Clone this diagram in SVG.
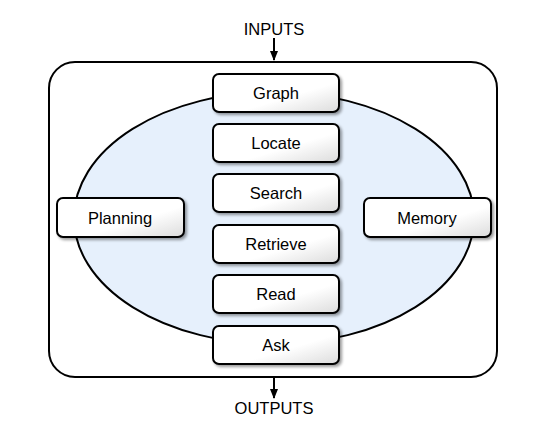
<svg xmlns="http://www.w3.org/2000/svg" width="560" height="426" viewBox="0 0 560 426">
<defs>
<linearGradient id="g" x1="0" y1="0" x2="1" y2="1">
<stop offset="0" stop-color="#ffffff"/>
<stop offset="0.6" stop-color="#ffffff"/>
<stop offset="1" stop-color="#dcdcdc"/>
</linearGradient>
<filter id="sh" x="-10%" y="-20%" width="130%" height="150%">
<feGaussianBlur in="SourceAlpha" stdDeviation="1.5"/>
<feOffset dx="1.5" dy="1.5" result="b"/>
<feComponentTransfer><feFuncA type="linear" slope="0.4"/></feComponentTransfer>
<feMerge><feMergeNode/><feMergeNode in="SourceGraphic"/></feMerge>
</filter>
<marker id="arr" viewBox="0 0 10 10" refX="9" refY="5" markerWidth="5" markerHeight="5" orient="auto">
<path d="M0,1 L10,5 L0,9 z" fill="#000"/>
</marker>
</defs>
<style>
.box{fill:url(#g);stroke:#000;stroke-width:2;filter:url(#sh)}
.lbl{font-family:"Liberation Sans",Arial,sans-serif;font-size:16.5px;fill:#000;text-anchor:middle}
.io{font-family:"Liberation Sans",Arial,sans-serif;font-size:16.5px;fill:#000;text-anchor:middle}
.conn{stroke:#000;stroke-width:2;fill:none}
</style>
<rect width="560" height="426" fill="#fff"/>
<g id="container">
<rect x="49" y="62" width="448" height="315" rx="26" ry="26" fill="#fff" stroke="#000" stroke-width="2"/>
<ellipse cx="274" cy="218" rx="200" ry="126" fill="#e6f0fc" stroke="#000" stroke-width="2"/>
</g>
<g id="connectors">
<line class="conn" x1="274" y1="38" x2="274" y2="60" marker-end="url(#arr)"/>
<line class="conn" x1="274" y1="377" x2="274" y2="398" marker-end="url(#arr)"/>
</g>
<g id="inputs"><text class="io" x="274" y="35">INPUTS</text></g>
<g id="outputs"><text class="io" x="274" y="414">OUTPUTS</text></g>
<g id="graph"><rect class="box" x="213" y="74" width="126" height="38" rx="6"/><text class="lbl" x="276" y="99">Graph</text></g>
<g id="locate"><rect class="box" x="213" y="124" width="126" height="38" rx="6"/><text class="lbl" x="276" y="149">Locate</text></g>
<g id="search"><rect class="box" x="213" y="174" width="126" height="38" rx="6"/><text class="lbl" x="276" y="199">Search</text></g>
<g id="retrieve"><rect class="box" x="213" y="225" width="126" height="38" rx="6"/><text class="lbl" x="276" y="250">Retrieve</text></g>
<g id="read"><rect class="box" x="213" y="275" width="126" height="38" rx="6"/><text class="lbl" x="276" y="300">Read</text></g>
<g id="ask"><rect class="box" x="213" y="326" width="126" height="38" rx="6"/><text class="lbl" x="276" y="351">Ask</text></g>
<g id="planning"><rect class="box" x="57" y="198" width="127" height="39" rx="6"/><text class="lbl" x="120" y="224">Planning</text></g>
<g id="memory"><rect class="box" x="364" y="198" width="127" height="39" rx="6"/><text class="lbl" x="427" y="224">Memory</text></g>
</svg>
